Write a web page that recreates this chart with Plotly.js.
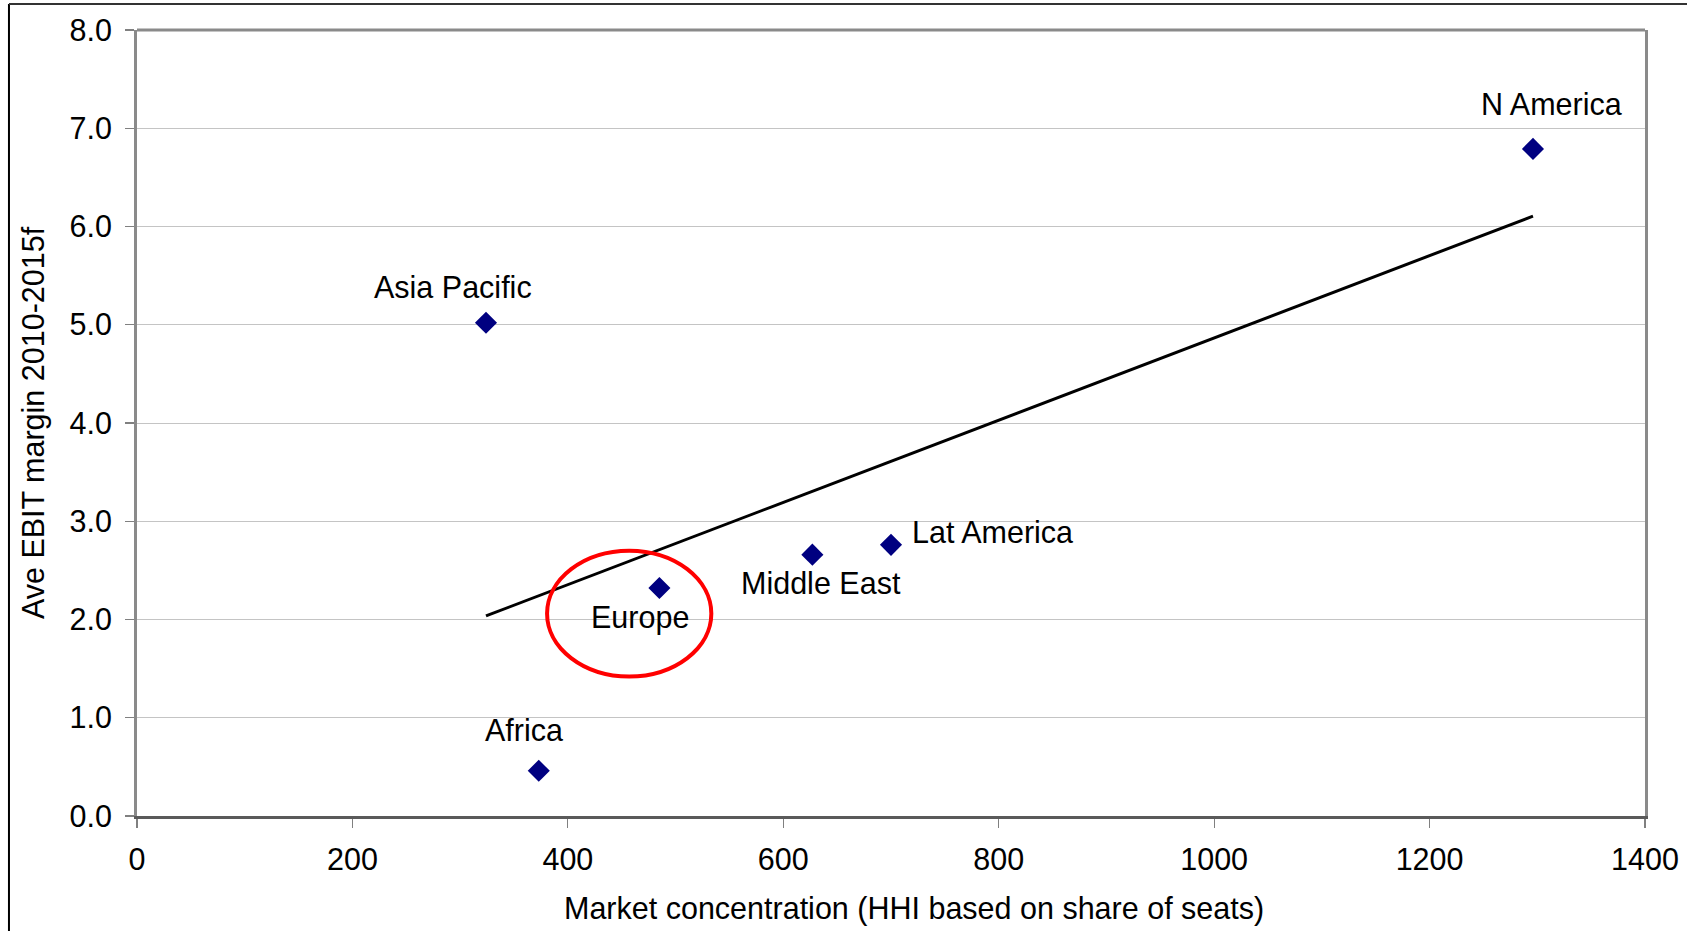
<!DOCTYPE html>
<html>
<head>
<meta charset="utf-8">
<script src="https://cdn.plot.ly/plotly-3.0.1.min.js"></script>
<style>
  html, body { margin: 0; padding: 0; background: #ffffff; }
  #chart { width: 1687px; height: 931px; }
</style>
</head>
<body>
<div id="chart"></div>
<script>
// Regional airline market concentration vs. average EBIT margin
const regions = ['Asia Pacific', 'Africa', 'Europe', 'Middle East', 'Lat America', 'N America'];
const hhi = [324, 373, 485, 627, 700, 1296];
const ebitMargin = [5.02, 0.46, 2.32, 2.66, 2.76, 6.79];
const xTicks = [0, 200, 400, 600, 800, 1000, 1200, 1400];
const yTicks = [0, 1, 2, 3, 4, 5, 6, 7, 8];

// Label placement relative to each marker (pixels: right, down)
const labelOffset = {
  'Asia Pacific': [-33, -36],
  'Africa': [-15, -41],
  'Europe': [-19, 29],
  'Middle East': [9, 28],
  'Lat America': [101, -13],
  'N America': [19, -45]
};

// Least-squares trend line across the observed HHI range
function linearFit(xs, ys) {
  const n = xs.length;
  const mx = xs.reduce((a, b) => a + b, 0) / n;
  const my = ys.reduce((a, b) => a + b, 0) / n;
  let sxy = 0, sxx = 0;
  for (let i = 0; i < n; i++) {
    sxy += (xs[i] - mx) * (ys[i] - my);
    sxx += (xs[i] - mx) * (xs[i] - mx);
  }
  const slope = sxy / sxx;
  return { slope: slope, intercept: my - slope * mx };
}
const fit = linearFit(hhi, ebitMargin);
const trendX = [Math.min(...hhi), Math.max(...hhi)];
const trendY = trendX.map(x => fit.intercept + fit.slope * x);

const FONT = 'Liberation Sans, Arial, Helvetica, sans-serif';
const FS = 30.5;

const traces = [
  {
    x: trendX, y: trendY, type: 'scatter', mode: 'lines',
    line: { color: '#000000', width: 3 },
    hoverinfo: 'skip', showlegend: false
  },
  {
    x: hhi, y: ebitMargin, text: regions, type: 'scatter', mode: 'markers',
    marker: { symbol: 'diamond', size: 17, color: '#000080', line: { width: 0 } },
    showlegend: false
  }
];

const annotations = regions.map((name, i) => ({
  x: hhi[i], y: ebitMargin[i], xref: 'x', yref: 'y',
  text: name, showarrow: false,
  xanchor: 'center', yanchor: 'middle',
  xshift: labelOffset[name][0], yshift: -labelOffset[name][1],
  font: { family: FONT, size: FS, color: '#000000' }
}));

annotations.push({
  xref: 'paper', yref: 'paper', x: 0.5155, y: -0.118,
  xanchor: 'center', yanchor: 'middle', showarrow: false,
  text: 'Market concentration (HHI based on share of seats)',
  font: { family: FONT, size: FS, color: '#000000' }
});
annotations.push({
  xref: 'paper', yref: 'paper', x: -0.0689, y: 0.5,
  xanchor: 'center', yanchor: 'middle', showarrow: false, textangle: -90,
  text: 'Ave EBIT margin 2010-2015f',
  font: { family: FONT, size: FS, color: '#000000' }
});

const layout = {
  width: 1687, height: 931, autosize: false,
  margin: { l: 137, r: 42, t: 30, b: 115, pad: 0 },
  paper_bgcolor: '#ffffff', plot_bgcolor: '#ffffff',
  font: { family: FONT, size: FS, color: '#000000' },
  showlegend: false,
  xaxis: {
    range: [0, 1400], tickvals: xTicks, ticktext: xTicks.map(String),
    showgrid: false, zeroline: false,
    showline: true, linecolor: '#5a5a5a', linewidth: 3,
    ticks: 'outside', ticklen: 9, tickwidth: 1.2, tickcolor: '#808080',
    ticklabelstandoff: 5,
    tickfont: { family: FONT, size: FS, color: '#000000' }
  },
  yaxis: {
    range: [0, 8], tickvals: yTicks, ticktext: yTicks.map(v => v.toFixed(1)),
    showgrid: true, gridcolor: '#c4c4c4', gridwidth: 1,
    zeroline: false,
    showline: true, linecolor: '#8a8a8a', linewidth: 3, mirror: true,
    ticks: 'outside', ticklen: 9, tickwidth: 1.2, tickcolor: '#808080',
    ticklabelstandoff: 7,
    tickfont: { family: FONT, size: FS, color: '#000000' }
  },
  shapes: [
    // top edge of the plot frame
    { type: 'line', xref: 'paper', yref: 'paper', x0: 0, x1: 1, y0: 1, y1: 1,
      line: { color: '#8a8a8a', width: 3 } },
    // highlight ring around Europe
    { type: 'circle', xref: 'x', yref: 'y', x0: 380.7, x1: 533.2, y0: 1.42, y1: 2.70,
      line: { color: '#ff0000', width: 4 } },
    // outer chart frame (left and top edges)
    { type: 'line', xref: 'paper', yref: 'paper', x0: -0.0849, x1: -0.0849, y0: -0.15, y1: 1.0331,
      line: { color: '#000000', width: 2 } },
    { type: 'line', xref: 'paper', yref: 'paper', x0: -0.0849, x1: 1.03, y0: 1.0331, y1: 1.0331,
      line: { color: '#333333', width: 2 } }
  ],
  annotations: annotations
};

Plotly.newPlot('chart', traces, layout, { displayModeBar: false, staticPlot: true });
</script>
</body>
</html>
